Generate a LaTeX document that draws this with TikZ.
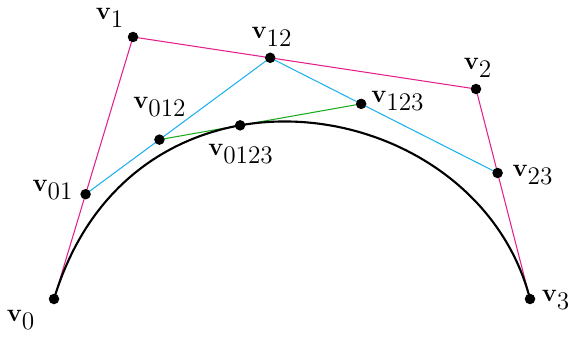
\documentclass[tikz,border=0pt]{standalone}
\usetikzlibrary{calc}
\definecolor{polypink}{RGB}{228,32,140}
\definecolor{polycyan}{RGB}{30,176,240}
\definecolor{polygreen}{RGB}{30,170,30}
\newcommand{\vlab}[1]{$\mathbf{v}_{\textstyle\mathrm{#1}}$}
\tikzset{
  pt/.style={circle, fill=black, inner sep=0pt, minimum size=0.21cm},
  lab/.style={font=\fontsize{14}{16}\selectfont, inner sep=1pt}
}
\begin{document}
\begin{tikzpicture}
        \useasboundingbox (0,0) rectangle (11.4,6.72);

        % control points
        \coordinate (p0) at (1.08,0.74);
        \coordinate (p1) at (2.66,5.98);
        \coordinate (p2) at (9.52,4.94);
        \coordinate (p3) at (10.60,0.74);

        % de casteljau, t = 0.4
        \coordinate (p01) at ($(p0)!0.4!(p1)$);
        \coordinate (p12) at ($(p1)!0.4!(p2)$);
        \coordinate (p23) at ($(p2)!0.4!(p3)$);
        \coordinate (p012) at ($(p01)!0.4!(p12)$);
        \coordinate (p123) at ($(p12)!0.4!(p23)$);
        \coordinate (p0123) at ($(p012)!0.4!(p123)$);

        % polygons
        \draw[polypink, line width=0.6pt] (p0) -- (p1) -- (p2) -- (p3);
        \draw[polycyan, line width=0.6pt] (p01) -- (p12) -- (p23);
        \draw[polygreen, line width=0.6pt] (p012) -- (p123);

        % curve
        \draw[line width=1.2pt] (p0) .. controls (p1) and (p2) .. (p3);

        % points
        \node[pt] (v0) at (p0) {};
        \node[pt] (v1) at (p1) {};
        \node[pt] (v2) at (p2) {};
        \node[pt] (v3) at (p3) {};
        \node[pt] (v01) at (p01) {};
        \node[pt] (v12) at (p12) {};
        \node[pt] (v23) at (p23) {};
        \node[pt] (v012) at (p012) {};
        \node[pt] (v123) at (p123) {};
        \node[pt] (v0123) at (p0123) {};

        % labels
        \node[lab] (l0) at (0.42,0.32) {\vlab{0}};
        \node[lab] (l1) at (2.20,6.36) {\vlab{1}};
        \node[lab] (l2) at (9.56,5.36) {\vlab{2}};
        \node[lab] (l3) at (11.12,0.72) {\vlab{3}};
        \node[lab] (l01) at (1.06,2.92) {\vlab{01}};
        \node[lab] (l12) at (5.44,5.98) {\vlab{12}};
        \node[lab] (l23) at (10.66,3.22) {\vlab{23}};
        \node[lab] (l012) at (3.20,4.58) {\vlab{012}};
        \node[lab] (l123) at (7.96,4.70) {\vlab{123}};
        \node[lab] (l0123) at (4.82,3.64) {\vlab{0123}};
\end{tikzpicture}
\end{document}
